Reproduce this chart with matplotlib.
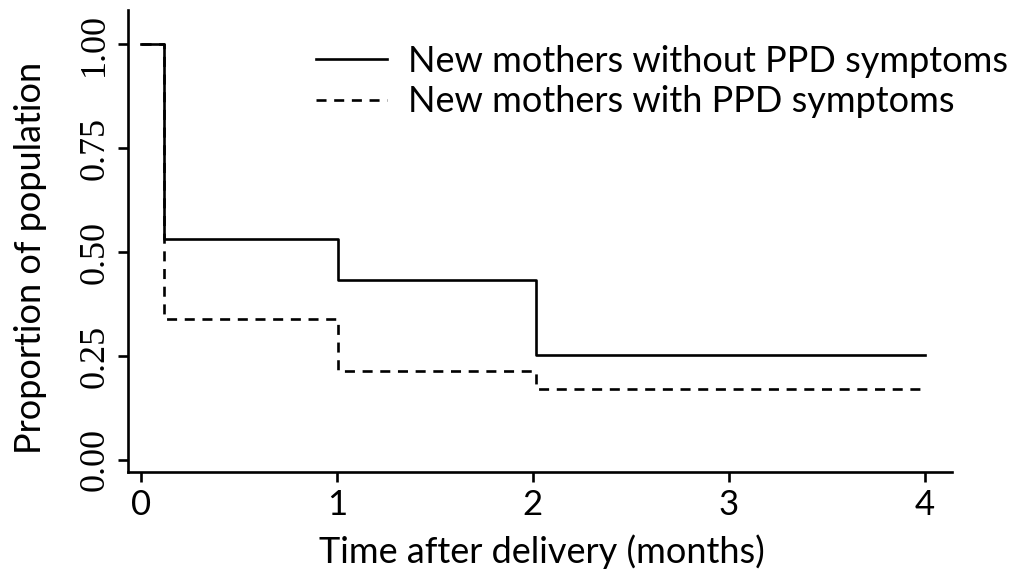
import matplotlib
matplotlib.use("Agg")
import matplotlib.pyplot as plt

# step times (months) and survival proportions
times = [0, 0.117, 1.005, 2.015, 4]
no_ppd = [1.00, 0.531, 0.433, 0.252, 0.252]
ppd = [1.00, 0.339, 0.214, 0.171, 0.171]

labels = ["New mothers without PPD symptoms", "New mothers with PPD symptoms"]
x_ticks = [0, 1, 2, 3, 4]
y_ticks = [0.00, 0.25, 0.50, 0.75, 1.00]

SANS = ["Lato", "DejaVu Sans"]
SERIF = ["Liberation Serif", "DejaVu Serif"]

fig = plt.figure(figsize=(10.16, 5.70), dpi=100)
ax = fig.add_axes([0.126, 0.172, 0.811, 0.810])

ax.step(times, no_ppd, where="post", color="black", lw=1.9, label=labels[0])
ax.step(times, ppd, where="post", color="black", lw=1.9, ls=(0, (3.8, 2.9)), label=labels[1])

ax.set_xlim(-0.066, 4.14)
ax.set_ylim(-0.029, 1.082)

ax.set_xticks(x_ticks)
ax.set_xticklabels([str(t) for t in x_ticks], fontfamily=SANS, fontsize=25)
ax.set_yticks(y_ticks)
ax.set_yticklabels([f"{v:.2f}" for v in y_ticks], fontfamily=SERIF, fontsize=26,
                   rotation=90, va="center")

for side in ["top", "right"]:
    ax.spines[side].set_visible(False)
for side in ["left", "bottom"]:
    ax.spines[side].set_linewidth(1.9)
ax.tick_params(width=1.9, length=7, direction="out", pad=5)

ax.set_xlabel("Time after delivery (months)", fontfamily=SANS, fontsize=26)
ax.set_ylabel("Proportion of population", fontfamily=SANS, fontsize=26)
ax.xaxis.set_label_coords((542 - 128) / 824, -(534 - 472) / 462)
ax.yaxis.set_label_coords(-(128 - 47) / 824, (472 - 258) / 462)

ax.legend(loc="upper right", bbox_to_anchor=(1.108, 0.995), frameon=False,
          prop={"family": SANS, "size": 26}, handlelength=1.95, handletextpad=0.6,
          labelspacing=0.2)

fig.savefig("out.png", dpi=100)
